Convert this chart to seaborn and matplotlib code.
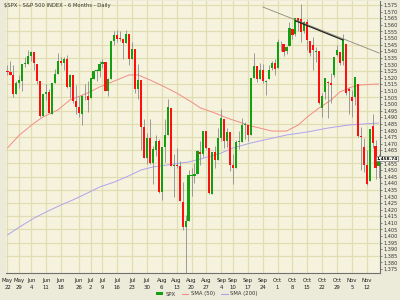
import matplotlib
matplotlib.use("Agg")
import matplotlib.pyplot as plt
import seaborn as sns
import pandas as pd
import numpy as np
from matplotlib.lines import Line2D
from matplotlib.patches import Patch

# ---------------- data ----------------
dates = ["May22","May23","May24","May25","May29","May30","May31","Jun1","Jun4","Jun5",
         "Jun6","Jun7","Jun8","Jun11","Jun12","Jun13","Jun14","Jun15","Jun18","Jun19",
         "Jun20","Jun21","Jun22","Jun25","Jun26","Jun27","Jun28","Jun29","Jul2","Jul3",
         "Jul5","Jul6","Jul9","Jul10","Jul11","Jul12","Jul13","Jul16","Jul17","Jul18",
         "Jul19","Jul20","Jul23","Jul24","Jul25","Jul26","Jul27","Jul30","Jul31","Aug1",
         "Aug2","Aug3","Aug6","Aug7","Aug8","Aug9","Aug10","Aug13","Aug14","Aug15",
         "Aug16","Aug17","Aug20","Aug21","Aug22","Aug23","Aug24","Aug27","Aug28","Aug29",
         "Aug30","Aug31","Sep4","Sep5","Sep6","Sep7","Sep10","Sep11","Sep12","Sep13",
         "Sep14","Sep17","Sep18","Sep19","Sep20","Sep21","Sep24","Sep25","Sep26","Sep27",
         "Sep28","Oct1","Oct2","Oct3","Oct4","Oct5","Oct8","Oct9","Oct10","Oct11",
         "Oct12","Oct15","Oct16","Oct17","Oct18","Oct19","Oct22","Oct23","Oct24","Oct25",
         "Oct26","Oct29","Oct30","Oct31","Nov1","Nov2","Nov5","Nov6","Nov7","Nov8",
         "Nov9","Nov12","Nov13","Nov14","Nov15","Nov16"]

opens = [1525.1,1524.1,1522.1,1507.5,1515.6,1517.6,1530.2,1530.6,1536.3,1539.1,
         1530.6,1517.4,1490.7,1507.6,1509.1,1492.7,1515.6,1522.9,1532.9,1531.0,
         1533.7,1512.8,1522.1,1502.5,1497.7,1492.6,1506.3,1505.7,1504.7,1519.1,
         1524.8,1524.9,1530.4,1531.8,1510.1,1518.7,1547.7,1552.5,1549.5,1549.2,
         1546.1,1553.1,1534.0,1541.5,1511.0,1518.0,1482.4,1458.9,1473.9,1455.1,
         1465.4,1472.1,1433.0,1467.6,1476.2,1497.2,1453.0,1453.4,1452.8,1426.1,
         1406.6,1411.2,1445.5,1445.5,1447.0,1464.0,1462.3,1479.3,1466.7,1432.0,
         1463.6,1457.6,1473.9,1488.7,1472.0,1478.5,1453.5,1451.6,1471.0,1471.4,
         1483.9,1484.2,1476.6,1519.7,1528.6,1518.7,1525.7,1516.3,1518.6,1527.3,
         1531.2,1527.2,1546.9,1545.8,1539.9,1543.8,1556.5,1553.1,1564.9,1564.7,
         1555.4,1562.2,1547.8,1544.4,1539.3,1540.0,1497.2,1509.3,1516.6,1516.1,
         1522.2,1536.9,1539.4,1532.2,1545.8,1511.0,1505.6,1505.3,1515.4,1475.2,
         1467.6,1453.7,1441.4,1483.4,1468.0,1453.1]

highs = [1529.2,1532.4,1529.3,1517.4,1521.8,1530.2,1535.6,1540.6,1540.5,1539.1,
         1530.6,1517.4,1507.8,1515.5,1511.3,1515.7,1526.5,1538.7,1535.4,1535.9,
         1537.3,1522.9,1522.2,1514.3,1506.1,1506.8,1514.8,1517.5,1519.5,1526.0,
         1526.6,1532.4,1534.3,1531.9,1519.9,1547.9,1555.1,1555.9,1555.3,1549.2,
         1555.9,1553.2,1547.2,1541.6,1530.4,1518.1,1488.5,1477.9,1488.3,1468.4,
         1476.4,1473.2,1467.7,1488.3,1503.9,1497.2,1462.0,1466.3,1456.7,1440.8,
         1416.0,1450.3,1451.8,1455.3,1464.9,1472.1,1479.4,1479.4,1466.7,1463.8,
         1468.4,1481.5,1496.4,1488.8,1481.5,1478.6,1462.0,1472.5,1479.5,1489.6,
         1486.0,1484.3,1519.9,1538.7,1529.1,1530.9,1530.2,1518.3,1529.4,1532.5,
         1533.7,1549.0,1548.0,1545.8,1544.0,1561.9,1556.5,1565.3,1565.4,1576.1,
         1563.0,1564.7,1547.8,1550.7,1542.8,1540.0,1508.1,1520.0,1517.2,1523.2,
         1535.5,1544.7,1539.4,1552.8,1545.8,1513.2,1510.8,1520.8,1515.5,1482.5,
         1474.1,1464.9,1481.4,1492.1,1472.7,1462.2]

lows = [1522.1,1521.9,1505.2,1507.5,1512.0,1510.1,1528.3,1530.6,1532.3,1525.6,
        1514.9,1490.4,1490.7,1503.4,1493.0,1492.7,1515.6,1523.0,1529.3,1525.7,
        1512.4,1504.8,1500.7,1492.7,1490.5,1484.2,1503.4,1493.6,1504.7,1519.1,
        1517.7,1520.5,1527.5,1510.0,1506.1,1518.7,1544.9,1546.7,1547.7,1533.7,
        1546.1,1529.2,1534.1,1508.6,1503.9,1465.3,1459.0,1454.3,1454.3,1439.6,
        1460.6,1432.8,1427.4,1455.8,1476.2,1453.1,1429.7,1451.5,1426.2,1404.4,
        1370.6,1411.3,1430.5,1439.8,1447.0,1453.9,1460.1,1466.0,1432.0,1432.0,
        1451.3,1457.6,1472.2,1466.3,1467.4,1449.1,1439.3,1451.7,1465.8,1471.5,
        1473.2,1471.8,1476.7,1519.8,1516.4,1518.8,1516.2,1507.1,1518.6,1525.8,
        1522.0,1527.3,1540.4,1536.3,1537.6,1543.8,1549.0,1551.8,1555.5,1546.7,
        1554.1,1540.8,1536.3,1526.0,1531.8,1500.3,1490.4,1503.6,1489.6,1500.5,
        1520.2,1536.4,1529.6,1529.4,1506.7,1492.5,1490.0,1499.1,1475.0,1450.3,
        1448.5,1438.5,1441.4,1466.5,1443.5,1444.0]

closes = [1524.1,1522.3,1507.5,1515.7,1518.1,1530.2,1530.6,1536.3,1539.2,1531.0,
          1517.4,1490.7,1507.7,1509.1,1493.0,1515.7,1523.0,1532.9,1531.1,1533.7,
          1512.8,1522.2,1502.6,1497.7,1492.9,1506.3,1505.7,1503.4,1519.4,1524.9,
          1525.4,1530.4,1531.9,1510.1,1518.8,1547.7,1552.5,1549.5,1549.4,1546.2,
          1553.1,1534.1,1541.6,1511.0,1518.1,1482.7,1459.0,1473.9,1455.3,1465.8,
          1472.2,1433.1,1467.7,1476.7,1497.5,1453.1,1453.6,1452.9,1426.5,1406.7,
          1411.3,1445.9,1445.6,1447.1,1464.1,1462.5,1479.4,1466.8,1432.4,1463.8,
          1457.6,1474.0,1489.4,1472.3,1478.6,1453.6,1451.7,1471.5,1471.6,1484.0,
          1484.3,1476.7,1519.8,1529.0,1518.8,1525.8,1517.7,1517.2,1525.4,1531.4,
          1526.8,1547.0,1546.6,1539.6,1542.8,1557.6,1552.6,1565.2,1562.5,1554.4,
          1561.8,1548.7,1538.5,1541.2,1540.1,1500.6,1506.3,1519.6,1515.9,1514.4,
          1535.3,1541.0,1531.0,1549.4,1508.4,1509.7,1502.2,1520.3,1475.6,1474.8,
          1453.7,1439.2,1481.1,1470.6,1451.2,1458.74]

sma50_idx = [0, 4, 9, 12, 17, 21, 27, 31, 36, 41, 44, 48, 53, 57, 62, 65, 69, 74, 79,
             82, 85, 89, 94, 98, 101, 105, 109, 112, 116, 119, 125]
sma50_val = [1466.7, 1476.5, 1485.6, 1490.2, 1495.5, 1503.0, 1508.3, 1512.9, 1517.4,
             1522.0, 1522.0, 1518.2, 1512.9, 1508.3, 1501.5, 1497.0, 1493.9, 1489.4,
             1485.6, 1483.3, 1481.8, 1479.5, 1479.5, 1484.1, 1490.2, 1497.0, 1503.0,
             1509.1, 1512.9, 1514.4, 1515.2]

sma200_idx = [0, 4, 9, 13, 18, 22, 27, 31, 36, 40, 45, 49, 56, 61, 65, 72, 76, 82,
              88, 94, 101, 108, 115, 125]
sma200_val = [1400.8, 1406.8, 1413.6, 1418.2, 1423.5, 1427.3, 1432.6, 1437.1, 1440.9,
              1444.7, 1450.0, 1452.3, 1454.5, 1456.1, 1458.3, 1462.9, 1466.7, 1470.5,
              1473.5, 1476.5, 1478.8, 1481.8, 1484.1, 1485.6]

trend_idx = [86, 125.3]
trend_val = [1573.5, 1538.5]
trend_dark_idx = [97, 113]
trend_dark_val = [1563.0, 1548.5]

xtick_idx = [0, 4, 8, 13, 18, 24, 28, 32, 37, 42, 47, 52, 57, 62, 67, 72, 76, 81,
             86, 91, 96, 101, 106, 111, 116, 121]
xtick_labels = ["May\n22","May\n29","Jun\n4","Jun\n11","Jun\n18","Jun\n26","Jul\n2",
                "Jul\n9","Jul\n16","Jul\n23","Jul\n30","Aug\n6","Aug\n13","Aug\n20",
                "Aug\n27","Sep\n4","Sep\n10","Sep\n17","Sep\n24","Oct\n1","Oct\n8",
                "Oct\n15","Oct\n22","Oct\n29","Nov\n5","Nov\n12"]

ytick_vals = list(range(1375, 1580, 5))
last_price = 1458.74

# ---------------- styling ----------------
sns.set_theme(style="white")
plt.rcParams['font.family'] = ['DejaVu Sans']

FIG_BG = "#ECEAD8"
AX_BG = "#F5F3DD"
GRID = "#E2DCB2"
GREEN = "#12A012"
RED = "#FF1010"
WICK = "#8C8C8C"

Y0, Y1 = 1372, 1578

fig = plt.figure(figsize=(4, 3), dpi=100, facecolor=FIG_BG)
ax = fig.add_axes([6/400, 27/300, 374/400, 272/300])
ax.set_facecolor(AX_BG)

df = pd.DataFrame({"i": np.arange(len(dates)), "date": dates, "open": opens,
                   "high": highs, "low": lows, "close": closes})
df["up"] = df["close"] >= df["open"]

# grid
for t in xtick_idx:
    ax.axvline(t, color=GRID, lw=0.9, zorder=0)
for p in range(1385, 1580, 10):
    ax.axhline(p, color=GRID, lw=0.9, zorder=0)

# SMA lines via seaborn
sns.lineplot(x=sma50_idx, y=sma50_val, ax=ax, color="#F28C84", lw=0.7, zorder=2)
sns.lineplot(x=sma200_idx, y=sma200_val, ax=ax, color="#B0A2EE", lw=0.7, zorder=2)

# candles
ax.vlines(df["i"], df["low"], df["high"], color=WICK, lw=0.6, zorder=3)
body_bottom = np.minimum(df["open"], df["close"])
body_h = np.maximum(np.abs(df["close"] - df["open"]), 0.6)
colors = [GREEN if u else RED for u in df["up"]]
ax.bar(df["i"], body_h, bottom=body_bottom, width=0.72, color=colors,
       linewidth=0, zorder=4)

# trend line
ax.plot(trend_idx, trend_val, color="#8A8A80", lw=0.6, zorder=5)
ax.plot(trend_dark_idx, trend_dark_val, color="#202020", lw=0.9, zorder=6)

ax.set_xlim(-0.5, 125.5)
ax.set_ylim(Y0, Y1)

ax.yaxis.tick_right()
ax.set_yticks(ytick_vals)
# the 1,460 label sits under the last-price tag
ax.set_yticklabels(["" if v == 1460 else f"{v:,}" for v in ytick_vals],
                   fontsize=3.6, color="#333333")
ax.set_xticks(xtick_idx)
ax.set_xticklabels(xtick_labels, fontsize=3.9, color="#222222", linespacing=1.6)
ax.tick_params(axis='y', length=1.5, width=0.5, pad=0.8, colors="#555555",
               labelcolor="#333333")
ax.tick_params(axis='x', length=2, width=0.5, pad=1.5, colors="#555555",
               labelcolor="#222222")

for s in ["top", "left"]:
    ax.spines[s].set_visible(False)
for s in ["right", "bottom"]:
    ax.spines[s].set_color("#707070")
    ax.spines[s].set_linewidth(0.8)

# last price tag (right-aligned inside the figure)
tag_y = (27 + 272 * (last_price - Y0) / (Y1 - Y0)) / 300
fig.text(397.5/400, tag_y, f"{last_price:,.2f}", fontsize=3.1, color="black",
         va="center", ha="right", fontweight="bold",
         bbox=dict(boxstyle="square,pad=0.12", fc="#F8F8F0", ec="#606060", lw=0.4),
         zorder=10)

# title
fig.text(4/400, 1 - 5/300, "$SPX - S&P 500 INDEX - 6 Months - Daily", fontsize=3.8,
         color="#333333", va="center", ha="left")

# legend
handles = [Patch(facecolor=GREEN, edgecolor="none"),
           Line2D([0], [1], color="#F28C84", lw=0.8),
           Line2D([0], [1], color="#B0A2EE", lw=0.8)]
leg = fig.legend(handles, ["SPX", "SMA (50)", "SMA (200)"], loc="center",
                 bbox_to_anchor=(207/400, 1 - 294/300), ncol=3, frameon=False,
                 fontsize=3.8, handlelength=1.2, handleheight=0.6,
                 columnspacing=1.2, handletextpad=0.5)
for t in leg.get_texts():
    t.set_color("#333333")

fig.savefig("out.png", dpi=100, facecolor=FIG_BG)
